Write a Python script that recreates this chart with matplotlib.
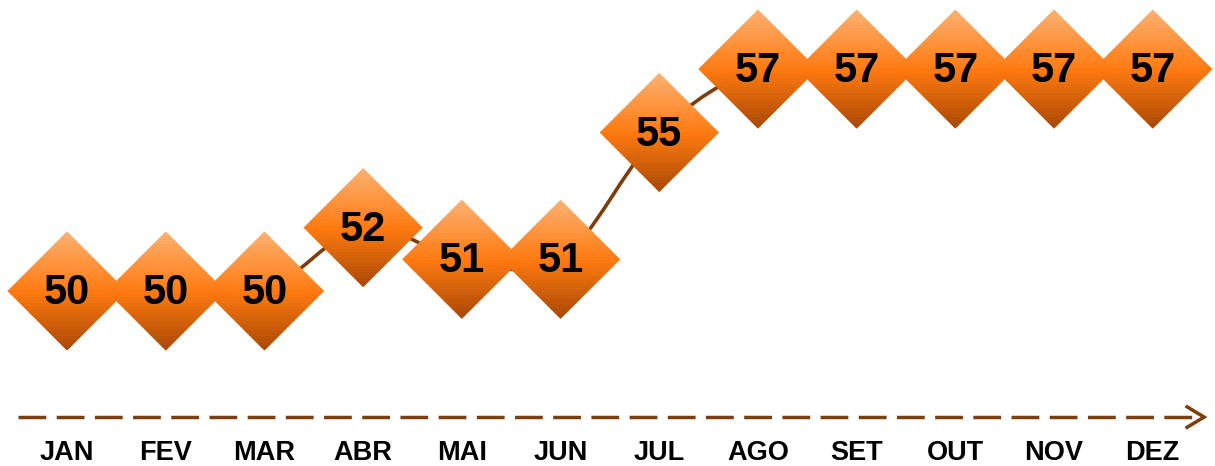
import numpy as np
import matplotlib.pyplot as plt
import matplotlib.transforms as mtransforms
from matplotlib.path import Path
from matplotlib.patches import PathPatch
from matplotlib.collections import PolyCollection
from matplotlib.colors import LinearSegmentedColormap

months = ['JAN', 'FEV', 'MAR', 'ABR', 'MAI', 'JUN',
          'JUL', 'AGO', 'SET', 'OUT', 'NOV', 'DEZ']
values = [50, 50, 50, 52, 51, 51, 55, 57, 57, 57, 57, 57]

plt.rcParams['font.family'] = ['Liberation Sans', 'DejaVu Sans']
plt.rcParams['lines.scale_dashes'] = False

brown = '#7d3d0c'

fig = plt.figure(figsize=(12.15, 4.66), dpi=100)
ax = fig.add_axes([0, 0, 1, 1])
ax.set_xlim(-0.679, 11.631)
ax.set_ylim(44.48, 59.18)
ax.axis('off')

x = np.arange(len(values), dtype=float)
y = np.array(values, dtype=float)

# smoothed connecting line (bezier through the points)
verts = [(x[0], y[0])]
codes = [Path.MOVETO]
n = len(x)
for i in range(n - 1):
    p0 = np.array([x[max(i - 1, 0)], y[max(i - 1, 0)]])
    p1 = np.array([x[i], y[i]])
    p2 = np.array([x[i + 1], y[i + 1]])
    p3 = np.array([x[min(i + 2, n - 1)], y[min(i + 2, n - 1)]])
    c1 = p1 + (p2 - p0) / 6
    c2 = p2 - (p3 - p1) / 6
    verts += [tuple(c1), tuple(c2), tuple(p2)]
    codes += [Path.CURVE4] * 3
ax.add_patch(PathPatch(Path(verts, codes), fill=False, edgecolor=brown,
                       lw=2.6, zorder=1))

# diamonds with vertical gradient
cmap = LinearSegmentedColormap.from_list(
    'dia', [(0, '#a84702'), (0.5, '#ff7a10'), (1, '#fcb070')])
h = 0.59
edges = np.linspace(-h, h, 41)
polys, cols = [], []
for y0, y1 in zip(edges[:-1], edges[1:]):
    w0 = h - abs(y0)
    w1 = h - abs(y1)
    polys.append([(-w0, y0), (w0, y0), (w1, y1), (-w1, y1)])
    cols.append(cmap((0.5 * (y0 + y1) + h) / (2 * h)))

for i, (xi, yi) in enumerate(zip(x, y)):
    trans = fig.dpi_scale_trans + mtransforms.ScaledTranslation(xi, yi, ax.transData)
    pc = PolyCollection(polys, facecolors=cols, edgecolors=cols, linewidths=0.6,
                        transform=trans, zorder=3 + i * 0.01)
    ax.add_collection(pc, autolim=False)
    ax.annotate(str(values[i]), (xi, yi), xytext=(0, -1.5), textcoords='offset points',
                ha='center', va='center', fontsize=30, fontweight='bold',
                color='black', zorder=10)

# time arrow
ax.plot([0.015, 0.988], [0.105, 0.105], transform=ax.transAxes, color=brown,
        lw=2.5, dashes=(20, 7.5), solid_capstyle='butt')
ax.plot([0.977, 0.991, 0.977], [0.127, 0.105, 0.083], transform=ax.transAxes,
        color=brown, lw=2.5, solid_joinstyle='miter')

blend = mtransforms.blended_transform_factory(ax.transData, ax.transAxes)
for xi, m in zip(x, months):
    ax.text(xi, 0.028, m, transform=blend, ha='center', va='center',
            fontsize=19.5, fontweight='bold', color='black')

fig.savefig('out.png', dpi=100)
